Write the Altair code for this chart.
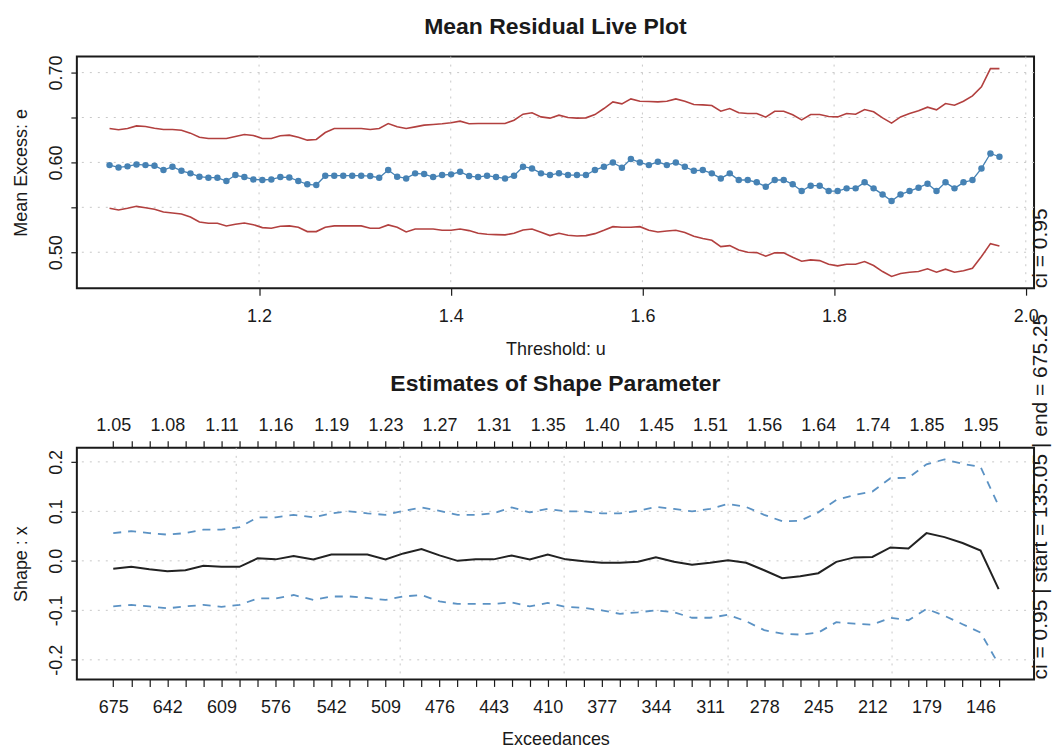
import json

import altair as alt
import numpy as np
import pandas as pd

FONT = "Liberation Sans"
INK = "#1a1a1a"
GRID = "#c8c8c8"
GRID_DASH = [2, 6]
STEEL = "#4682b4"
BROWN = "#b2403f"

# ---------------- Mean residual life: 100 equally spaced thresholds ----------------
u_min, u_max, n_thresh = 1.044, 1.9725, 100

mean_excess = [
    0.5970, 0.5944, 0.5956, 0.5978, 0.5970, 0.5963, 0.5915, 0.5952, 0.5907, 0.5878,
    0.5841, 0.5830, 0.5830, 0.5793, 0.5859, 0.5837, 0.5811, 0.5804, 0.5811, 0.5837,
    0.5833, 0.5793, 0.5756, 0.5748, 0.5852, 0.5852, 0.5852, 0.5852, 0.5852, 0.5848,
    0.5830, 0.5915, 0.5841, 0.5822, 0.5878, 0.5870, 0.5837, 0.5859, 0.5867, 0.5896,
    0.5848, 0.5837, 0.5852, 0.5837, 0.5822, 0.5852, 0.5952, 0.5933, 0.5878, 0.5859,
    0.5880, 0.5859, 0.5859, 0.5859, 0.5915, 0.5952, 0.6000, 0.5941, 0.6037, 0.6000,
    0.5970, 0.6007, 0.5970, 0.6000, 0.5952, 0.5907, 0.5915, 0.5878, 0.5822, 0.5878,
    0.5804, 0.5804, 0.5778, 0.5730, 0.5804, 0.5804, 0.5756, 0.5681, 0.5741, 0.5741,
    0.5681, 0.5681, 0.5711, 0.5711, 0.5778, 0.5711, 0.5644, 0.5570, 0.5644, 0.5681,
    0.5719, 0.5763, 0.5681, 0.5778, 0.5711, 0.5778, 0.5804, 0.5933, 0.6100, 0.6063,
]

me_upper = [
    0.6378, 0.6363, 0.6378, 0.6407, 0.6400, 0.6381, 0.6367, 0.6367, 0.6359, 0.6326,
    0.6281, 0.6267, 0.6267, 0.6267, 0.6289, 0.6311, 0.6300, 0.6267, 0.6267, 0.6296,
    0.6304, 0.6281, 0.6248, 0.6256, 0.6333, 0.6378, 0.6378, 0.6378, 0.6378, 0.6367,
    0.6378, 0.6433, 0.6396, 0.6378, 0.6396, 0.6415, 0.6422, 0.6430, 0.6441, 0.6459,
    0.6430, 0.6433, 0.6433, 0.6433, 0.6433, 0.6470, 0.6537, 0.6552, 0.6507, 0.6493,
    0.6526, 0.6500, 0.6493, 0.6496, 0.6533, 0.6600, 0.6674, 0.6652, 0.6707, 0.6681,
    0.6678, 0.6674, 0.6681, 0.6707, 0.6681, 0.6644, 0.6641, 0.6633, 0.6570, 0.6600,
    0.6552, 0.6544, 0.6544, 0.6504, 0.6570, 0.6570, 0.6530, 0.6474, 0.6533, 0.6533,
    0.6511, 0.6507, 0.6544, 0.6537, 0.6589, 0.6563, 0.6496, 0.6437, 0.6507, 0.6544,
    0.6574, 0.6615, 0.6585, 0.6656, 0.6637, 0.6681, 0.6741, 0.6841, 0.7044, 0.7044,
]

me_lower = [
    0.5489, 0.5470, 0.5489, 0.5511, 0.5496, 0.5478, 0.5448, 0.5437, 0.5426, 0.5393,
    0.5337, 0.5322, 0.5322, 0.5293, 0.5311, 0.5326, 0.5307, 0.5274, 0.5267, 0.5289,
    0.5293, 0.5278, 0.5230, 0.5230, 0.5278, 0.5293, 0.5293, 0.5293, 0.5293, 0.5267,
    0.5267, 0.5304, 0.5278, 0.5226, 0.5259, 0.5259, 0.5259, 0.5244, 0.5244, 0.5259,
    0.5241, 0.5211, 0.5200, 0.5196, 0.5193, 0.5211, 0.5248, 0.5259, 0.5222, 0.5185,
    0.5211, 0.5189, 0.5181, 0.5185, 0.5207, 0.5244, 0.5285, 0.5278, 0.5278, 0.5285,
    0.5244, 0.5226, 0.5237, 0.5244, 0.5219, 0.5178, 0.5152, 0.5133, 0.5063, 0.5074,
    0.5026, 0.5000, 0.4996, 0.4956, 0.4993, 0.4993, 0.4944, 0.4900, 0.4915, 0.4907,
    0.4867, 0.4848, 0.4867, 0.4867, 0.4896, 0.4852, 0.4785, 0.4730, 0.4763, 0.4778,
    0.4785, 0.4815, 0.4778, 0.4811, 0.4778, 0.4793, 0.4822, 0.4952, 0.5096, 0.5070,
]

mrl_x_ticks = [1.2, 1.4, 1.6, 1.8, 2.0]
mrl_y_ticks = [0.50, 0.55, 0.60, 0.65, 0.70]

# ---------------- Shape parameter over 50 models ----------------
exceedances = [
    675, 664, 653, 642, 631, 620, 609, 598, 587, 576,
    565, 553, 542, 531, 520, 509, 498, 487, 476, 465,
    454, 443, 432, 421, 410, 399, 388, 377, 366, 355,
    344, 333, 322, 311, 300, 289, 278, 267, 256, 245,
    234, 223, 212, 201, 190, 179, 168, 157, 146, 135,
]

# thresholds printed above every third model
threshold_labels = [
    "1.05", "1.08", "1.11", "1.16", "1.19", "1.23", "1.27", "1.31", "1.35",
    "1.40", "1.45", "1.51", "1.56", "1.64", "1.74", "1.85", "1.95",
]

shape_xi = [
    -0.016, -0.012, -0.017, -0.021, -0.019, -0.010, -0.012, -0.012, 0.005, 0.003,
    0.010, 0.003, 0.013, 0.013, 0.013, 0.003, 0.015, 0.024, 0.011, 0.000,
    0.003, 0.003, 0.011, 0.003, 0.013, 0.003, -0.001, -0.004, -0.004, -0.002,
    0.007, -0.002, -0.008, -0.004, 0.001, -0.004, -0.019, -0.035, -0.031, -0.025,
    -0.002, 0.007, 0.008, 0.027, 0.025, 0.056, 0.048, 0.036, 0.021, -0.057,
]

shape_upper = [
    0.056, 0.060, 0.056, 0.053, 0.056, 0.063, 0.063, 0.068, 0.088, 0.088,
    0.093, 0.088, 0.096, 0.100, 0.096, 0.093, 0.101, 0.108, 0.101, 0.093,
    0.093, 0.096, 0.108, 0.098, 0.105, 0.100, 0.100, 0.096, 0.096, 0.101,
    0.109, 0.105, 0.100, 0.105, 0.115, 0.109, 0.093, 0.080, 0.081, 0.098,
    0.123, 0.133, 0.140, 0.167, 0.168, 0.195, 0.205, 0.196, 0.190, 0.111,
]

shape_lower = [
    -0.092, -0.089, -0.092, -0.096, -0.092, -0.089, -0.093, -0.089, -0.076, -0.076,
    -0.069, -0.079, -0.072, -0.072, -0.075, -0.079, -0.072, -0.069, -0.082, -0.087,
    -0.087, -0.087, -0.084, -0.092, -0.085, -0.093, -0.095, -0.100, -0.107, -0.104,
    -0.100, -0.104, -0.115, -0.115, -0.109, -0.122, -0.140, -0.147, -0.149, -0.145,
    -0.124, -0.127, -0.129, -0.115, -0.120, -0.097, -0.111, -0.128, -0.145, -0.209,
]

shape_y_ticks = [-0.2, -0.1, 0.0, 0.1, 0.2]
grid_exceedances = [600, 500, 400, 300, 200]

# ---------------- tables ----------------
thresholds = np.linspace(u_min, u_max, n_thresh)
mrl_df = pd.DataFrame({"u": thresholds, "me": mean_excess, "hi": me_upper, "lo": me_lower})
shape_df = pd.DataFrame({"exc": exceedances, "xi": shape_xi, "hi": shape_upper, "lo": shape_lower})
labelled_exc = exceedances[::3]

# panel size and the page margins around each panel
W, H = 959, 232
LEFT, TOP, GAP = 76, 55, 160
PAGE_W, PAGE_H = 1052, 749
BOTTOM_EDGE = PAGE_H - TOP - H - GAP  # page bottom, measured from the lower panel's top

base_axis = dict(
    labelFont=FONT, labelFontSize=18, labelColor=INK, labelOverlap=False,
    labelFlush=False, tickColor=INK, tickWidth=1.2, domain=False, grid=False,
    titleFont=FONT, titleFontSize=18, titleFontWeight="normal", titleColor=INK,
)


def left_axis(values, title, label_expr):
    return alt.Axis(
        values=values, tickSize=6, labelPadding=9, labelAngle=270,
        labelAlign="center", labelBaseline="alphabetic", labelExpr=label_expr,
        title=title, titleAngle=270, titleX=-50, titleY=H / 2,
        titleAlign="center", titleBaseline="alphabetic", **base_axis,
    )


def heading(text, y):
    return alt.Chart(pd.DataFrame({"t": [text]})).mark_text(
        font=FONT, fontSize=23, fontWeight="bold", align="center",
        baseline="alphabetic", color=INK,
    ).encode(x=alt.value(W / 2), y=alt.value(y), text="t:N")


def side_note(text):
    return alt.Chart(pd.DataFrame({"t": [text]})).mark_text(
        font=FONT, fontSize=21, angle=270, align="left",
        baseline="bottom", color=INK,
    ).encode(x=alt.value(PAGE_W - LEFT), y=alt.value(H), text="t:N")


def page_edge(y):
    # invisible horizontal rule that pins the page extent
    return alt.Chart(pd.DataFrame({"k": [0]})).mark_rule(
        opacity=0, strokeWidth=0
    ).encode(x=alt.value(-LEFT), x2=alt.value(PAGE_W - LEFT), y=alt.value(y))


def dotted_rules(values, channel, scale):
    enc = alt.X("g:Q", scale=scale, axis=None) if channel == "x" else alt.Y("g:Q", scale=scale, axis=None)
    return alt.Chart(pd.DataFrame({"g": values})).mark_rule(
        color=GRID, strokeDash=GRID_DASH, strokeWidth=1
    ).encode(**{channel: enc})


# ---------------- top panel: mean residual life ----------------
xs1 = alt.Scale(domain=[1.0099, 2.0086], nice=False, zero=False)
ys1 = alt.Scale(domain=[0.46, 0.7178], nice=False, zero=False)

x1_axis = alt.Axis(
    values=mrl_x_ticks, format=".1f", tickSize=7,
    labelPadding=12, labelBaseline="top",
    title="Threshold: u", titleX=W / 2, titleY=66.5,
    titleAlign="center", titleBaseline="alphabetic", **base_axis,
)
y1_axis = left_axis(
    mrl_y_ticks, "Mean Excess: e",
    "(datum.value > 0.54 && datum.value < 0.56) || (datum.value > 0.64 && datum.value < 0.66) ? '' : format(datum.value, '.2f')",
)

mrl_base = alt.Chart(mrl_df)
upper_line = mrl_base.mark_line(color=BROWN, strokeWidth=1.6).encode(
    x=alt.X("u:Q", scale=xs1, axis=x1_axis),
    y=alt.Y("hi:Q", scale=ys1, axis=y1_axis),
)
lower_line = mrl_base.mark_line(color=BROWN, strokeWidth=1.6).encode(
    x=alt.X("u:Q", scale=xs1, axis=None), y=alt.Y("lo:Q", scale=ys1, axis=None)
)
me_line = mrl_base.mark_line(color=STEEL, strokeWidth=1.3).encode(
    x=alt.X("u:Q", scale=xs1, axis=None), y=alt.Y("me:Q", scale=ys1, axis=None)
)
me_points = mrl_base.mark_circle(color=STEEL, size=42, opacity=1).encode(
    x=alt.X("u:Q", scale=xs1, axis=None), y=alt.Y("me:Q", scale=ys1, axis=None)
)

top = alt.layer(
    dotted_rules(mrl_x_ticks, "x", xs1),
    dotted_rules(mrl_y_ticks, "y", ys1),
    upper_line, lower_line, me_line, me_points,
    heading("Mean Residual Live Plot", -23),
    side_note("ci = 0.95"),
    page_edge(-TOP),
).resolve_axis(x="independent", y="independent").properties(width=W, height=H)

# ---------------- bottom panel: shape parameter ----------------
xs2 = alt.Scale(domain=[113.4, 697.2], reverse=True, nice=False, zero=False)
ys2 = alt.Scale(domain=[-0.2396, 0.2283], nice=False, zero=False)

exc_js = json.dumps(labelled_exc)
thr_js = json.dumps(threshold_labels)

x2_bottom = alt.Axis(
    values=exceedances, format="d", tickSize=7, labelPadding=12,
    labelBaseline="top",
    labelExpr=f"indexof({exc_js}, datum.value) >= 0 ? datum.label : ''",
    title="Exceedances", titleX=W / 2, titleY=65.5,
    titleAlign="center", titleBaseline="alphabetic", **base_axis,
)
x2_top = alt.Axis(
    values=exceedances, orient="top", tickSize=7, labelPadding=10,
    labelBaseline="alphabetic",
    labelExpr=f"indexof({exc_js}, datum.value) >= 0 ? {thr_js}[indexof({exc_js}, datum.value)] : ''",
    title=None, **base_axis,
)
# plain hyphen for negative labels
y2_axis = left_axis(
    shape_y_ticks, "Shape : x",
    "(datum.value < 0 ? '-' : '') + format(abs(datum.value), '.1f')",
)

shape_base = alt.Chart(shape_df)
ci_hi = shape_base.mark_line(color="#5b92c4", strokeWidth=1.8, strokeDash=[8, 7]).encode(
    x=alt.X("exc:Q", scale=xs2, axis=x2_top),
    y=alt.Y("hi:Q", scale=ys2, axis=y2_axis),
)
ci_lo = shape_base.mark_line(color="#5b92c4", strokeWidth=1.8, strokeDash=[8, 7]).encode(
    x=alt.X("exc:Q", scale=xs2, axis=None), y=alt.Y("lo:Q", scale=ys2, axis=None)
)
xi_line = shape_base.mark_line(color="#222222", strokeWidth=2).encode(
    x=alt.X("exc:Q", scale=xs2, axis=x2_bottom),
    y=alt.Y("xi:Q", scale=ys2, axis=None),
)

bottom = alt.layer(
    dotted_rules(grid_exceedances, "x", xs2),
    dotted_rules(shape_y_ticks, "y", ys2),
    ci_hi, ci_lo, xi_line,
    heading("Estimates of Shape Parameter", -57),
    side_note("ci = 0.95 | start = 135.05 | end = 675.25"),
    page_edge(BOTTOM_EDGE),
).resolve_axis(x="independent", y="independent").properties(width=W, height=H)

chart = alt.vconcat(top, bottom, spacing=GAP, bounds="flush").properties(
    padding=0,
    background="white",
).configure_view(stroke=INK, strokeWidth=2)

chart.save("out.html", embed_options={"renderer": "svg", "actions": False})
